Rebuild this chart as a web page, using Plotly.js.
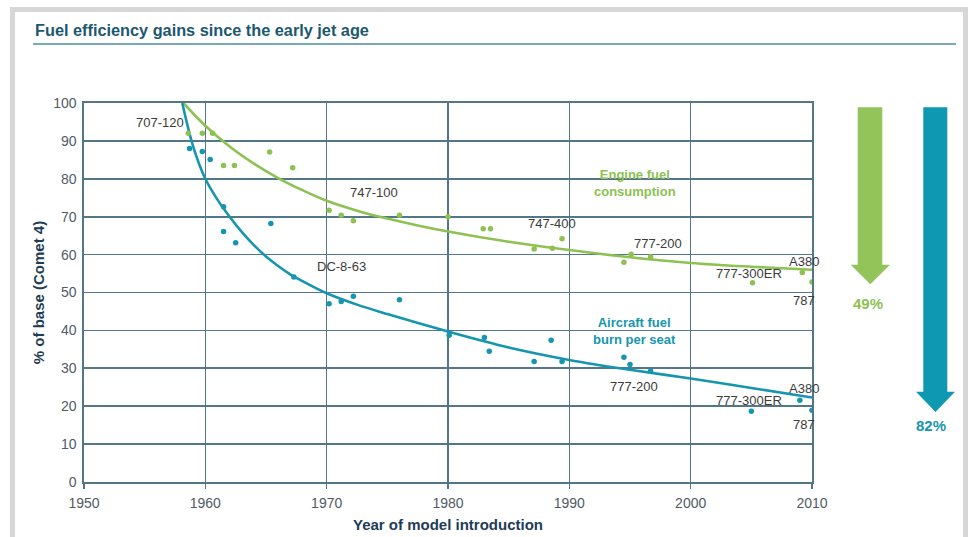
<!DOCTYPE html>
<html>
<head>
<meta charset="utf-8">
<script src="https://cdn.plot.ly/plotly-3.0.1.min.js"></script>
<style>
  html, body { margin: 0; padding: 0; background: #ffffff; }
  #chart { width: 969px; height: 537px; }
</style>
</head>
<body>
<div id="chart"></div>
<script>
// ---- Data ----
const engineYears = [1958.6, 1959.75, 1960.6, 1961.5, 1962.4, 1965.3, 1967.2, 1970.2, 1971.2, 1972.2, 1976.0, 1980.0, 1982.9, 1983.5, 1987.1, 1988.6, 1989.4, 1994.5, 1995.1, 1996.7, 2005.1, 2009.2, 2010.0];
const engineValues = [92.0, 92.0, 92.0, 83.5, 83.5, 87.1, 82.9, 71.7, 70.4, 68.9, 70.4, 70.0, 66.8, 66.8, 61.5, 61.7, 64.2, 58.0, 60.1, 59.4, 52.6, 55.3, 52.8];

const burnYears = [1958.7, 1959.75, 1960.4, 1961.5, 1961.5, 1962.5, 1965.4, 1967.3, 1970.2, 1971.2, 1972.2, 1976.0, 1980.1, 1983.0, 1983.4, 1987.1, 1988.5, 1989.4, 1994.5, 1995.0, 1996.7, 2005.0, 2009.0, 2010.0];
const burnValues = [88.0, 87.2, 85.1, 72.6, 66.1, 63.1, 68.2, 54.1, 47.0, 47.6, 49.0, 48.1, 38.7, 38.1, 34.5, 31.8, 37.4, 31.8, 32.9, 31.0, 29.3, 18.7, 21.6, 18.9];

// Trend curves as drawn in the reference
const engineTrendYears = [1958.2, 1960, 1962, 1964, 1966, 1968, 1970, 1972.5, 1975, 1977.5, 1980, 1985, 1990, 1995, 2000, 2005, 2010];
const engineTrendValues = [100, 94.0, 88.5, 84.0, 80.2, 77.0, 74.2, 71.6, 69.5, 67.7, 66.1, 63.4, 61.2, 59.3, 57.8, 56.8, 56.0];

const burnTrendYears = [1958.1, 1959, 1960, 1961, 1962, 1963, 1964, 1965, 1966, 1967, 1968, 1970, 1972.5, 1975, 1980, 1985, 1990, 1995, 2000, 2005, 2010];
const burnTrendValues = [100, 88.5, 80.0, 74.5, 70.0, 66.0, 62.5, 59.5, 57.0, 54.8, 53.0, 49.8, 46.8, 44.3, 39.7, 35.5, 32.2, 29.6, 27.3, 24.8, 22.3];

// Model labels
const engineLabels = ["747-100", "747-400", "777-200", "777-300ER", "A380", "787"];
const engineLabelX = [1973.9, 1988.6, 1997.3, 2004.8, 2009.3, 2009.3];
const engineLabelY = [76.3, 68.2, 62.9, 55.0, 58.2, 47.9];

const burnLabels = ["DC-8-63", "777-200", "777-300ER", "A380", "787"];
const burnLabelX = [1971.2, 1995.3, 2004.8, 2009.3, 2009.3];
const burnLabelY = [56.8, 25.3, 21.5, 24.8, 15.3];

const reductions = ["49%", "82%"];

const xTicks = [1950, 1960, 1970, 1980, 1990, 2000, 2010];
const yTicks = [0, 10, 20, 30, 40, 50, 60, 70, 80, 90, 100];

// ---- Styling ----
const GREEN = '#8dc152';
const BLUE = '#1596ae';
const GRID = '#547689';
const TEXT = '#3b3b3b';

// pixel -> paper helpers (plot area 84..812 x, 103..482 y)
const L = 84, R = 812, T = 103, B = 482;
const px = v => (v - L) / (R - L);
const py = v => (B - v) / (B - T);

const traces = [
  { x: engineTrendYears, y: engineTrendValues, mode: 'lines', line: { color: GREEN, width: 2.6, shape: 'spline', smoothing: 1 }, hoverinfo: 'skip', showlegend: false },
  { x: burnTrendYears, y: burnTrendValues, mode: 'lines', line: { color: BLUE, width: 2.6, shape: 'spline', smoothing: 1 }, hoverinfo: 'skip', showlegend: false },
  { x: engineYears, y: engineValues, mode: 'markers', marker: { color: GREEN, size: 5.5 }, name: 'Engine fuel consumption', showlegend: false },
  { x: burnYears, y: burnValues, mode: 'markers', marker: { color: BLUE, size: 5.5 }, name: 'Aircraft fuel burn per seat', showlegend: false }
];

const lblFont = { family: 'Liberation Sans, Arial, sans-serif', size: 13, color: TEXT };
const annotations = [];
engineLabels.forEach((t, i) => annotations.push({ x: engineLabelX[i], y: engineLabelY[i], text: t, showarrow: false, font: lblFont, xanchor: 'center', yanchor: 'middle' }));
burnLabels.forEach((t, i) => annotations.push({ x: burnLabelX[i], y: burnLabelY[i], text: t, showarrow: false, font: lblFont, xanchor: 'center', yanchor: 'middle' }));
annotations.push({ x: 1958.2, y: 104.5, text: 'Comet 4', showarrow: false, font: lblFont, xanchor: 'center', yanchor: 'middle' });
annotations.push({ x: 1958.4, y: 94.9, text: '707-120', showarrow: false, font: lblFont, xanchor: 'right', yanchor: 'middle' });
annotations.push({ x: 1995.4, y: 78.9, text: 'Engine fuel<br>consumption', showarrow: false, font: { family: 'Liberation Sans, Arial, sans-serif', size: 13, color: GREEN, weight: 'bold' }, xanchor: 'center', yanchor: 'middle', align: 'center' });
annotations.push({ x: 1995.4, y: 39.8, text: 'Aircraft fuel<br>burn per seat', showarrow: false, font: { family: 'Liberation Sans, Arial, sans-serif', size: 13, color: BLUE, weight: 'bold' }, xanchor: 'center', yanchor: 'middle', align: 'center' });
annotations.push({ xref: 'paper', x: px(868), y: 47.0, text: reductions[0], showarrow: false, font: { family: 'Liberation Sans, Arial, sans-serif', size: 15, color: GREEN, weight: 'bold' }, xanchor: 'center', yanchor: 'middle' });
annotations.push({ xref: 'paper', x: px(931), y: 15.0, text: reductions[1], showarrow: false, font: { family: 'Liberation Sans, Arial, sans-serif', size: 15, color: BLUE, weight: 'bold' }, xanchor: 'center', yanchor: 'middle' });
// Title
annotations.push({ xref: 'paper', yref: 'paper', x: px(33), y: py(30), text: 'Fuel efficiency gains since the early jet age', showarrow: false, xanchor: 'left', yanchor: 'middle', font: { family: 'Liberation Sans, Arial, sans-serif', size: 16.3, color: '#1c5870', weight: 'bold' } });

function arrowPath(xl, xr, hl, hr, xc, top, headStart, tip) {
  return `M ${px(xl)},${top} L ${px(xr)},${top} L ${px(xr)},${headStart} L ${px(hr)},${headStart} L ${px(xc)},${tip} L ${px(hl)},${headStart} L ${px(xl)},${headStart} Z`;
}

const shapes = [
  // gray frame
  { type: 'rect', xref: 'paper', yref: 'paper', x0: px(10), x1: px(968), y0: py(12), y1: py(7), fillcolor: '#d7d7d7', line: { width: 0 }, layer: 'below' },
  { type: 'rect', xref: 'paper', yref: 'paper', x0: px(10), x1: px(15), y0: py(540), y1: py(7), fillcolor: '#d7d7d7', line: { width: 0 }, layer: 'below' },
  { type: 'rect', xref: 'paper', yref: 'paper', x0: px(963), x1: px(968), y0: py(540), y1: py(7), fillcolor: '#d7d7d7', line: { width: 0 }, layer: 'below' },
  // title underline
  { type: 'line', xref: 'paper', yref: 'paper', x0: px(33), x1: px(956), y0: py(44), y1: py(44), line: { color: '#4e8c9f', width: 1.5 } },
  // arrows
  { type: 'path', xref: 'paper', yref: 'y', path: arrowPath(857.7, 882.3, 850.7, 890, 870.3, 98.9, 57.3, 52.2), fillcolor: '#92c45a', line: { width: 0 } },
  { type: 'path', xref: 'paper', yref: 'y', path: arrowPath(923.3, 947.3, 916, 955, 935.5, 98.9, 23.8, 18.5), fillcolor: '#0f98b1', line: { width: 0 } }
];

const layout = {
  width: 969, height: 537,
  margin: { l: L, r: 969 - R, t: T, b: 537 - B, pad: 0 },
  paper_bgcolor: '#ffffff', plot_bgcolor: '#ffffff',
  showlegend: false,
  xaxis: {
    range: [1950, 2010], tickvals: xTicks, ticktext: xTicks.map(String),
    showgrid: true, gridcolor: GRID, gridwidth: 1.6,
    showline: true, mirror: true, linecolor: GRID, linewidth: 1.6,
    zeroline: false, ticks: 'outside', ticklen: 5, tickcolor: GRID, tickwidth: 1.6,
    ticklabelstandoff: 3,
    tickfont: { family: 'Liberation Sans, Arial, sans-serif', size: 14, color: '#4f5b63' },
    title: { text: 'Year of model introduction', standoff: 9, font: { family: 'Liberation Sans, Arial, sans-serif', size: 15, color: '#1e3c56', weight: 'bold' } },
    fixedrange: true
  },
  yaxis: {
    range: [0, 100], tickvals: yTicks, ticktext: yTicks.map(String),
    showgrid: true, gridcolor: GRID, gridwidth: 1.6,
    showline: true, mirror: true, linecolor: GRID, linewidth: 1.6,
    zeroline: false, ticks: '', ticklabelstandoff: 3,
    tickfont: { family: 'Liberation Sans, Arial, sans-serif', size: 14, color: '#4f5b63' },
    title: { text: '% of base (Comet 4)', standoff: 5, font: { family: 'Liberation Sans, Arial, sans-serif', size: 15, color: '#1e3c56', weight: 'bold' } },
    fixedrange: true
  },
  annotations: annotations,
  shapes: shapes
};

Plotly.newPlot('chart', traces, layout, { displayModeBar: false, staticPlot: true });
</script>
</body>
</html>
